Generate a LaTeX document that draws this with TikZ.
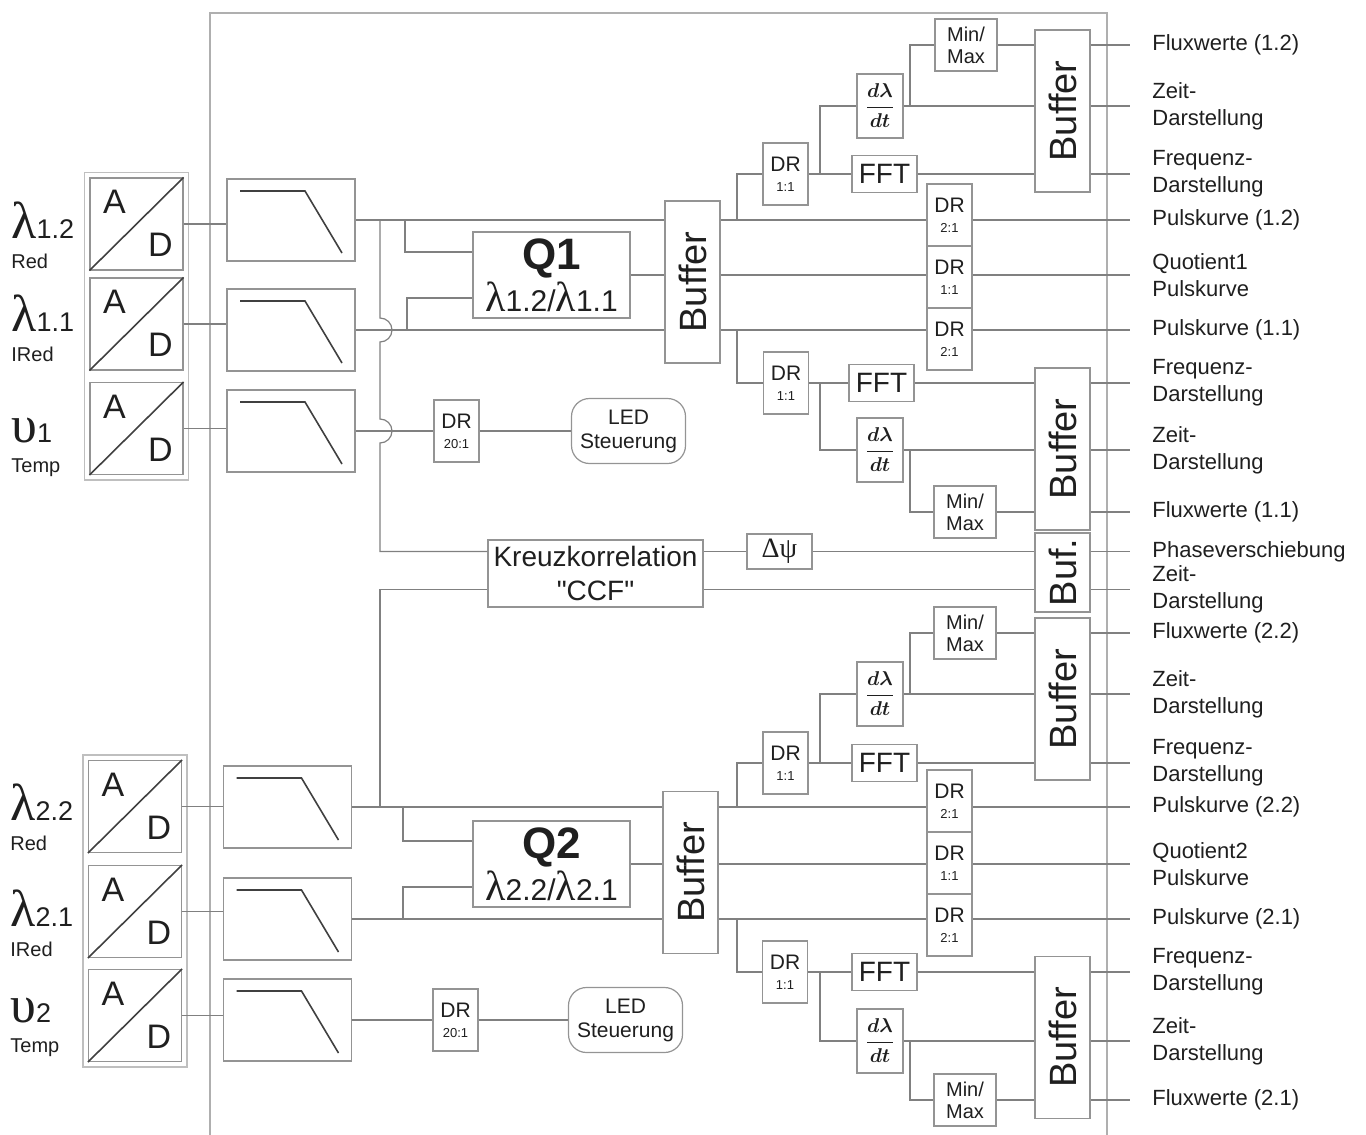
\documentclass[tikz,border=0pt]{standalone}
\usepackage{amsmath}
\usepackage{fontspec}
\setmainfont{Liberation Sans}
\newfontfamily\greekfont{Liberation Serif}
\usepackage{xcolor}
\usepackage{tikz}
\usetikzlibrary{calc, fit}

\newcommand\lam[1]{{\greekfont\fontsize{#1}{#1}\selectfont λ}}
\newcommand\ups{{\greekfont\fontsize{26}{26}\selectfont υ}}
\newcommand\sigidx[1]{{\fontsize{13.5}{13.5}\selectfont #1}}
\newcommand\ratio[1]{{\fontsize{6.5}{7}\selectfont #1}}

\definecolor{wiregray}{gray}{0.5}
\definecolor{rimgray}{gray}{0.58}
\definecolor{inkgray}{gray}{0.12}

\begin{document}
\begin{tikzpicture}[
    x=0.5pt, y=-0.5pt,
    wire/.style={draw=wiregray, line width=0.6pt},
    outerframe/.style={draw=rimgray!75, line width=0.7pt},
    blk/.style={draw=rimgray, line width=0.6pt, inner sep=0pt, align=center, text=inkgray},
    adbox/.style={blk, minimum width=46.5pt, minimum height=46pt},
    adframe/.style={draw=rimgray!60, line width=0.8pt, inner sep=2.5pt},
    adletter/.style={font=\fontsize{17}{17}\selectfont, text=inkgray, inner sep=0pt},
    filterbox/.style={blk, minimum width=64pt, minimum height=41pt},
    lowpass/.style={draw=inkgray!85, line width=0.8pt},
    qbox/.style={blk, minimum width=78.5pt, minimum height=43pt, font=\fontsize{15}{21}\selectfont},
    bufbox/.style={blk, minimum width=27.5pt, minimum height=81pt, font=\fontsize{19}{19}\selectfont},
    drbox/.style={blk, minimum width=22.5pt, minimum height=31pt, font=\fontsize{10.5}{10}\selectfont},
    fftbox/.style={blk, minimum width=32.5pt, minimum height=18.5pt, font=\fontsize{14}{14}\selectfont},
    derivbox/.style={blk, minimum width=23pt, minimum height=32pt, font=\fontsize{10}{12}\selectfont},
    mmbox/.style={blk, minimum width=31pt, minimum height=26pt, font=\fontsize{10}{11}\selectfont},
    ledbox/.style={blk, minimum width=57pt, minimum height=32.5pt, rounded corners=9pt, font=\fontsize{10.5}{12}\selectfont},
    ccfbox/.style={blk, minimum width=107.5pt, minimum height=33.5pt, font=\fontsize{14}{17}\selectfont},
    dpsibox/.style={blk, minimum width=32.5pt, minimum height=17.5pt, font=\greekfont\fontsize{14}{14}\selectfont},
    outlabel/.style={anchor=west, inner sep=0pt, align=left, text=inkgray, font=\fontsize{11}{13.5}\selectfont},
    signame/.style={anchor=north west, inner sep=0pt, align=left, text=inkgray, font=\fontsize{10}{11.5}\selectfont},
]
\useasboundingbox (0,0) rectangle (1366,1135);

% ── Frame ──
\draw[outerframe] (210,1135) -- (210,13) -- (1107,13) -- (1107,1135);

% ── A/D converters ──
\node[adbox] (ad12) at (136.5,224) {};
\node[adbox] (ad11) at (136.5,324) {};
\node[adbox] (ad1t) at (136.5,428.5) {};
\node[adbox] (ad22) at (135,806.5) {};
\node[adbox] (ad21) at (135,911.5) {};
\node[adbox] (ad2t) at (135,1015.5) {};
\node[adframe, fit=(ad12)(ad1t)] (adgrp1) {};
\node[adframe, fit=(ad22)(ad2t)] (adgrp2) {};
\foreach \a in {ad12,ad11,ad1t,ad22,ad21,ad2t} {
    \draw[lowpass] (\a.south west) -- (\a.north east);
    \node[adletter] (\a-A) at ([shift={(-22,-22)}]\a.center) {A};
    \node[adletter] (\a-D) at ([shift={(24,21)}]\a.center) {D};
}

% ── Signal names ──
\node[signame] (s12) at (11,201) {\lam{26}\sigidx{1.2}\\[3.5pt]Red};
\node[signame] (s11) at (11,294) {\lam{26}\sigidx{1.1}\\[3.5pt]IRed};
\node[signame] (s1t) at (11,418) {\ups\sigidx{1}\\[3.5pt]Temp};
\node[signame] (s22) at (10,783) {\lam{26}\sigidx{2.2}\\[3.5pt]Red};
\node[signame] (s21) at (10,889) {\lam{26}\sigidx{2.1}\\[3.5pt]IRed};
\node[signame] (s2t) at (10,998) {\ups\sigidx{2}\\[3.5pt]Temp};

% ── Low-pass filters ──
\node[filterbox] (f12) at (291,220) {};
\node[filterbox] (f11) at (291,330) {};
\node[filterbox] (f1t) at (291,431) {};
\node[filterbox] (f22) at (287.5,807) {};
\node[filterbox] (f21) at (287.5,919) {};
\node[filterbox] (f2t) at (287.5,1020) {};
\foreach \f in {f12,f11,f1t,f22,f21,f2t}
    \draw[lowpass] ([shift={(-51,-29)}]\f.center) -- ++(65,0) -- ++(37,62);

\draw[wire] (ad12.east) -- (ad12.east -| f12.west);
\draw[wire] (ad11.east) -- (ad11.east -| f11.west);
\draw[wire] (ad1t.east) -- (ad1t.east -| f1t.west);
\draw[wire] (ad22.east) -- (ad22.east -| f22.west);
\draw[wire] (ad21.east) -- (ad21.east -| f21.west);
\draw[wire] (ad2t.east) -- (ad2t.east -| f2t.west);

% ── Quotients and buffers ──
\node[qbox] (q1) at (551.5,275) {{\fontsize{22}{22}\selectfont\bfseries Q1}\\\lam{21}1.2/\lam{21}1.1};
\node[qbox] (q2) at (551.5,864) {{\fontsize{22}{22}\selectfont\bfseries Q2}\\\lam{21}2.2/\lam{21}2.1};
\node[bufbox] (buf1) at (692.5,282) {\rotatebox{90}{Buffer}};
\node[bufbox] (buf2) at (690.5,872.5) {\rotatebox{90}{Buffer}};

\coordinate (ubus) at (380,220);
\coordinate (lbus) at (380,807);
\coordinate (tap1) at (405,220);
\coordinate (tap2) at (407,330);
\coordinate (tap3) at (403,807);
\coordinate (tap4) at (403,919);

% ── Cross correlation ──
\node[ccfbox] (ccf) at (595.5,573.5) {Kreuzkorrelation\\\textquotedbl CCF\textquotedbl};
\node[dpsibox] (dpsi) at (779.5,551.5) {Δψ};
\node[bufbox, minimum height=39.5pt] (bufcc) at (1062.5,572.5) {\rotatebox{90}{Buf.}};
\coordinate (ccfz) at ([yshift=-8pt]ccf.east);

% ── Temperature / LED ──
\node[drbox] (dr1t) at (456.5,431) {DR\\\ratio{20:1}};
\node[ledbox] (led1) at (628.5,431) {LED\\Steuerung};
\node[drbox] (dr2t) at (455.5,1020) {DR\\\ratio{20:1}};
\node[ledbox] (led2) at (625.5,1020) {LED\\Steuerung};

% ── Group 1 processing ──
\node[drbox] (dr12a) at (949.5,215) {DR\\\ratio{2:1}};
\node[drbox] (dr12b) at (949.5,277) {DR\\\ratio{1:1}};
\node[drbox] (dr12c) at (949.5,339) {DR\\\ratio{2:1}};

\node[drbox] (dr1u) at (785.5,174) {DR\\\ratio{1:1}};
\node[fftbox] (fft1u) at (884.5,174) {FFT};
\node[derivbox] (dv1u) at (880,106) {$\boldsymbol{\dfrac{d\lambda}{dt}}$};
\node[mmbox] (mm1u) at (966,45) {Min/\\Max};
\node[bufbox] (buf1u) at (1062.5,111) {\rotatebox{90}{Buffer}};

\node[drbox] (dr1l) at (786,383) {DR\\\ratio{1:1}};
\node[fftbox] (fft1l) at (881.5,383) {FFT};
\node[derivbox] (dv1l) at (880,450) {$\boldsymbol{\dfrac{d\lambda}{dt}}$};
\node[mmbox] (mm1l) at (965,512) {Min/\\Max};
\node[bufbox] (buf1l) at (1062.5,449) {\rotatebox{90}{Buffer}};

\coordinate (br1u) at (737,220);
\coordinate (br1l) at (737,330);
\coordinate (fk1u) at (820,174);
\coordinate (fk1l) at (820,383);
\coordinate (mf1u) at (910,106);
\coordinate (mf1l) at (910,450);

% ── Group 2 processing ──
\node[drbox] (dr22a) at (949.5,801) {DR\\\ratio{2:1}};
\node[drbox] (dr22b) at (949.5,863) {DR\\\ratio{1:1}};
\node[drbox] (dr22c) at (949.5,925) {DR\\\ratio{2:1}};

\node[drbox] (dr2u) at (785.5,763) {DR\\\ratio{1:1}};
\node[fftbox] (fft2u) at (884.5,763) {FFT};
\node[derivbox] (dv2u) at (880,694) {$\boldsymbol{\dfrac{d\lambda}{dt}}$};
\node[mmbox] (mm2u) at (965,633) {Min/\\Max};
\node[bufbox] (buf2u) at (1062.5,699) {\rotatebox{90}{Buffer}};

\node[drbox] (dr2l) at (785,972) {DR\\\ratio{1:1}};
\node[fftbox] (fft2l) at (884.5,972) {FFT};
\node[derivbox] (dv2l) at (880,1041) {$\boldsymbol{\dfrac{d\lambda}{dt}}$};
\node[mmbox] (mm2l) at (965,1100) {Min/\\Max};
\node[bufbox] (buf2l) at (1062.5,1037.5) {\rotatebox{90}{Buffer}};

\coordinate (br2u) at (737,807);
\coordinate (br2l) at (737,919);
\coordinate (fk2u) at (820,763);
\coordinate (fk2l) at (820,972);
\coordinate (mf2u) at (910,694);
\coordinate (mf2l) at (910,1041);

% ── Output labels ──
\node[outlabel] (lbl1) at (1152,45) {Fluxwerte (1.2)};
\node[outlabel] (lbl2) at (1152,106) {Zeit-\\Darstellung};
\node[outlabel] (lbl3) at (1152,174) {Frequenz-\\Darstellung};
\node[outlabel] (lbl4) at (1152,220) {Pulskurve (1.2)};
\node[outlabel] (lbl5) at (1152,275) {Quotient1\\Pulskurve};
\node[outlabel] (lbl6) at (1152,330) {Pulskurve (1.1)};
\node[outlabel] (lbl7) at (1152,383) {Frequenz-\\Darstellung};
\node[outlabel] (lbl8) at (1152,450) {Zeit-\\Darstellung};
\node[outlabel] (lbl9) at (1152,512) {Fluxwerte (1.1)};
\node[outlabel] (lbl10) at (1152,551.5) {Phaseverschiebung};
\node[outlabel] (lbl11) at (1152,589.5) {Zeit-\\Darstellung};
\node[outlabel] (lbl12) at (1152,633) {Fluxwerte (2.2)};
\node[outlabel] (lbl13) at (1152,694) {Zeit-\\Darstellung};
\node[outlabel] (lbl14) at (1152,763) {Frequenz-\\Darstellung};
\node[outlabel] (lbl15) at (1152,807) {Pulskurve (2.2)};
\node[outlabel] (lbl16) at (1152,864) {Quotient2\\Pulskurve};
\node[outlabel] (lbl17) at (1152,919) {Pulskurve (2.1)};
\node[outlabel] (lbl18) at (1152,972) {Frequenz-\\Darstellung};
\node[outlabel] (lbl19) at (1152,1041) {Zeit-\\Darstellung};
\node[outlabel] (lbl20) at (1152,1100) {Fluxwerte (2.1)};

% ── Wires: group 1 front end ──
\draw[wire] (f12.east) -- (f12.east -| buf1.west);
\draw[wire] (f11.east) -- (f11.east -| buf1.west);
\draw[wire] (q1.east) -- (q1.east -| buf1.west);
\draw[wire] (tap1) |- ([yshift=11.5pt]q1.west);
\draw[wire] (tap2) |- ([yshift=-11.5pt]q1.west);
\draw[wire] (ubus) -- ($(ubus |- f11.east)+(0,-12)$) arc[start angle=90, end angle=-90, radius=6pt]
    -- ($(ubus |- f1t.east)+(0,-12)$) arc[start angle=90, end angle=-90, radius=6pt]
    |- ([yshift=11pt]ccf.west);
\draw[wire] (f1t.east) -- (dr1t.west);
\draw[wire] (dr1t.east) -- (led1.west);

% ── Wires: group 2 front end ──
\draw[wire] (f22.east) -- (f22.east -| buf2.west);
\draw[wire] (f21.east) -- (f21.east -| buf2.west);
\draw[wire] (q2.east) -- (q2.east -| buf2.west);
\draw[wire] (tap3) |- ([yshift=11.5pt]q2.west);
\draw[wire] (tap4) |- ([yshift=-11.5pt]q2.west);
\draw[wire] (lbus) |- ([yshift=-8pt]ccf.west);
\draw[wire] (f2t.east) -- (dr2t.west);
\draw[wire] (dr2t.east) -- (led2.west);

% ── Wires: cross correlation ──
\draw[wire] (dpsi.west -| ccf.east) -- (dpsi.west);
\draw[wire] (dpsi.east) -- (dpsi.east -| bufcc.west);
\draw[wire] (ccfz) -- (ccfz -| bufcc.west);
\draw[wire] (bufcc.east |- dpsi.east) -- ([xshift=-11pt]lbl10.west);
\draw[wire] (bufcc.east |- ccfz) -- ([xshift=-11pt]lbl11.west);

% ── Wires: group 1 back end ──
\draw[wire] (buf1.east |- f12.east) -- (dr12a.west |- f12.east);
\draw[wire] (buf1.east |- q1.east) -- (dr12b.west |- q1.east);
\draw[wire] (buf1.east |- f11.east) -- (dr12c.west |- f11.east);
\draw[wire] (dr12a.east |- f12.east) -- ([xshift=-11pt]lbl4.west);
\draw[wire] (dr12b.east |- q1.east) -- ([xshift=-11pt]lbl5.west);
\draw[wire] (dr12c.east |- f11.east) -- ([xshift=-11pt]lbl6.west);

\draw[wire] (br1u) |- (dr1u.west);
\draw[wire] (dr1u.east) -- (fft1u.west);
\draw[wire] (fk1u) |- (dv1u.west);
\draw[wire] (mf1u) |- (mm1u.west);
\draw[wire] (fft1u.east) -- (fft1u.east -| buf1u.west);
\draw[wire] (dv1u.east) -- (dv1u.east -| buf1u.west);
\draw[wire] (mm1u.east) -- (mm1u.east -| buf1u.west);
\draw[wire] (buf1u.east |- mm1u.east) -- ([xshift=-11pt]lbl1.west);
\draw[wire] (buf1u.east |- dv1u.east) -- ([xshift=-11pt]lbl2.west);
\draw[wire] (buf1u.east |- fft1u.east) -- ([xshift=-11pt]lbl3.west);

\draw[wire] (br1l) |- (dr1l.west);
\draw[wire] (dr1l.east) -- (fft1l.west);
\draw[wire] (fk1l) |- (dv1l.west);
\draw[wire] (mf1l) |- (mm1l.west);
\draw[wire] (fft1l.east) -- (fft1l.east -| buf1l.west);
\draw[wire] (dv1l.east) -- (dv1l.east -| buf1l.west);
\draw[wire] (mm1l.east) -- (mm1l.east -| buf1l.west);
\draw[wire] (buf1l.east |- fft1l.east) -- ([xshift=-11pt]lbl7.west);
\draw[wire] (buf1l.east |- dv1l.east) -- ([xshift=-11pt]lbl8.west);
\draw[wire] (buf1l.east |- mm1l.east) -- ([xshift=-11pt]lbl9.west);

% ── Wires: group 2 back end ──
\draw[wire] (buf2.east |- f22.east) -- (dr22a.west |- f22.east);
\draw[wire] (buf2.east |- q2.east) -- (dr22b.west |- q2.east);
\draw[wire] (buf2.east |- f21.east) -- (dr22c.west |- f21.east);
\draw[wire] (dr22a.east |- f22.east) -- ([xshift=-11pt]lbl15.west);
\draw[wire] (dr22b.east |- q2.east) -- ([xshift=-11pt]lbl16.west);
\draw[wire] (dr22c.east |- f21.east) -- ([xshift=-11pt]lbl17.west);

\draw[wire] (br2u) |- (dr2u.west);
\draw[wire] (dr2u.east) -- (fft2u.west);
\draw[wire] (fk2u) |- (dv2u.west);
\draw[wire] (mf2u) |- (mm2u.west);
\draw[wire] (fft2u.east) -- (fft2u.east -| buf2u.west);
\draw[wire] (dv2u.east) -- (dv2u.east -| buf2u.west);
\draw[wire] (mm2u.east) -- (mm2u.east -| buf2u.west);
\draw[wire] (buf2u.east |- mm2u.east) -- ([xshift=-11pt]lbl12.west);
\draw[wire] (buf2u.east |- dv2u.east) -- ([xshift=-11pt]lbl13.west);
\draw[wire] (buf2u.east |- fft2u.east) -- ([xshift=-11pt]lbl14.west);

\draw[wire] (br2l) |- (dr2l.west);
\draw[wire] (dr2l.east) -- (fft2l.west);
\draw[wire] (fk2l) |- (dv2l.west);
\draw[wire] (mf2l) |- (mm2l.west);
\draw[wire] (fft2l.east) -- (fft2l.east -| buf2l.west);
\draw[wire] (dv2l.east) -- (dv2l.east -| buf2l.west);
\draw[wire] (mm2l.east) -- (mm2l.east -| buf2l.west);
\draw[wire] (buf2l.east |- fft2l.east) -- ([xshift=-11pt]lbl18.west);
\draw[wire] (buf2l.east |- dv2l.east) -- ([xshift=-11pt]lbl19.west);
\draw[wire] (buf2l.east |- mm2l.east) -- ([xshift=-11pt]lbl20.west);

\end{tikzpicture}
\end{document}
